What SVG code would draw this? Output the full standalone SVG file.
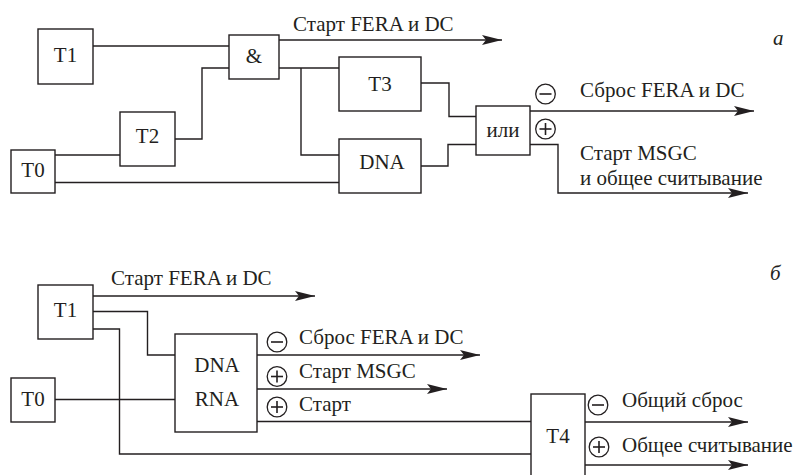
<svg xmlns="http://www.w3.org/2000/svg" xmlns:xlink="http://www.w3.org/1999/xlink" width="802" height="475" viewBox="0 0 802 475">
<style>
.box{fill:#fff;stroke:#231f20;stroke-width:1.4}
.w{fill:none;stroke:#231f20;stroke-width:1.4}
.arr{marker-end:url(#ah)}
text{font-family:"Liberation Serif","Times New Roman",serif;font-size:21px;fill:#231f20}
.c{text-anchor:middle}
.it{font-style:italic}
.sg{fill:#fff;stroke:#231f20;stroke-width:1.3}
.sl{stroke:#231f20;stroke-width:1.6}
</style>
<defs>
<marker id="ah" markerUnits="userSpaceOnUse" markerWidth="22" markerHeight="12" refX="20" refY="6" orient="auto" overflow="visible">
<path d="M0,1 L20,6 L0,11 L4,6 Z" fill="#231f20"/>
</marker>
<g id="minus"><circle r="9.8" class="sg"/><line x1="-6" y1="0" x2="6" y2="0" class="sl"/></g>
<g id="plus"><circle r="9.8" class="sg"/><line x1="-6" y1="0" x2="6" y2="0" class="sl"/><line x1="0" y1="-6" x2="0" y2="6" class="sl"/></g>
</defs>
<rect width="802" height="475" fill="#fff"/>

<g id="connectors">
<path class="w" d="M93,46 H229"/>
<path class="w" d="M175,139 H202 V68 H229"/>
<path class="w" d="M55,155 H120"/>
<path class="w" d="M55,182.5 H339"/>
<path class="w arr" d="M279,40 H502"/>
<path class="w" d="M279,68 H339"/>
<path class="w" d="M301,68 V155 H339"/>
<path class="w" d="M421,83 H449 V116.5 H476"/>
<path class="w" d="M421,166 H448 V144.5 H476"/>
<path class="w arr" d="M530,111 H754"/>
<path class="w arr" d="M530,144.5 H558 V193 H748"/>

<path class="w arr" d="M93,296 H315"/>
<path class="w" d="M93,311.5 H147.5 V355 H175"/>
<path class="w" d="M93,329 H119.5 V454 H531"/>
<path class="w" d="M55,399.5 H175"/>
<path class="w arr" d="M257,355 H480"/>
<path class="w arr" d="M257,389 H447"/>
<path class="w" d="M257,421.5 H531"/>
<path class="w arr" d="M585,422 H748"/>
<path class="w arr" d="M585,465 H748"/>
</g>

<g id="a-T1"><rect class="box" x="38" y="29" width="55" height="55"/><text class="c" x="65.5" y="62">T1</text></g>
<g id="a-and"><rect class="box" x="229" y="35" width="50" height="44"/><text class="c" x="254" y="63">&amp;</text></g>
<g id="a-T2"><rect class="box" x="120" y="112" width="55" height="54"/><text class="c" x="147.5" y="143">T2</text></g>
<g id="a-T0"><rect class="box" x="11" y="150" width="44" height="43"/><text class="c" x="33" y="177">T0</text></g>
<g id="a-T3"><rect class="box" x="339" y="57" width="82" height="54"/><text class="c" x="380" y="91">T3</text></g>
<g id="a-DNA"><rect class="box" x="339" y="139" width="82" height="54"/><text class="c" x="382" y="168.5">DNA</text></g>
<g id="a-or"><rect class="box" x="476" y="106" width="54" height="49"/><text class="c" x="503" y="137">или</text></g>

<g id="a-labels">
<text x="293" y="31">Старт FERA и DC</text>
<use xlink:href="#minus" x="545.5" y="94"/>
<use xlink:href="#plus" x="545.5" y="129"/>
<text x="580" y="97">Сброс FERA и DC</text>
<text x="580" y="160">Старт MSGC</text>
<text x="580" y="184.5">и общее считывание</text>
<text class="it" x="773" y="45">а</text>
</g>

<g id="b-T1"><rect class="box" x="38" y="285" width="55" height="54"/><text class="c" x="65.5" y="317">T1</text></g>
<g id="b-T0"><rect class="box" x="11" y="378" width="44" height="44"/><text class="c" x="33" y="406">T0</text></g>
<g id="b-DNARNA"><rect class="box" x="175" y="334" width="82" height="98"/><text class="c" x="217" y="371.5">DNA</text><text class="c" x="217" y="406">RNA</text></g>
<g id="b-T4"><rect class="box" x="531" y="394" width="54" height="95"/><text class="c" x="558" y="443">T4</text></g>

<g id="b-labels">
<text x="111" y="285">Старт FERA и DC</text>
<use xlink:href="#minus" x="277" y="342"/>
<text x="299" y="344">Сброс FERA и DC</text>
<use xlink:href="#plus" x="277" y="376.5"/>
<text x="299" y="378">Старт MSGC</text>
<use xlink:href="#plus" x="277" y="407"/>
<text x="299" y="411">Старт</text>
<use xlink:href="#minus" x="598" y="405"/>
<text x="622" y="407">Общий сброс</text>
<use xlink:href="#plus" x="599" y="447"/>
<text x="622" y="452">Общее считывание</text>
<text class="it" x="770" y="280">б</text>
</g>
</svg>
